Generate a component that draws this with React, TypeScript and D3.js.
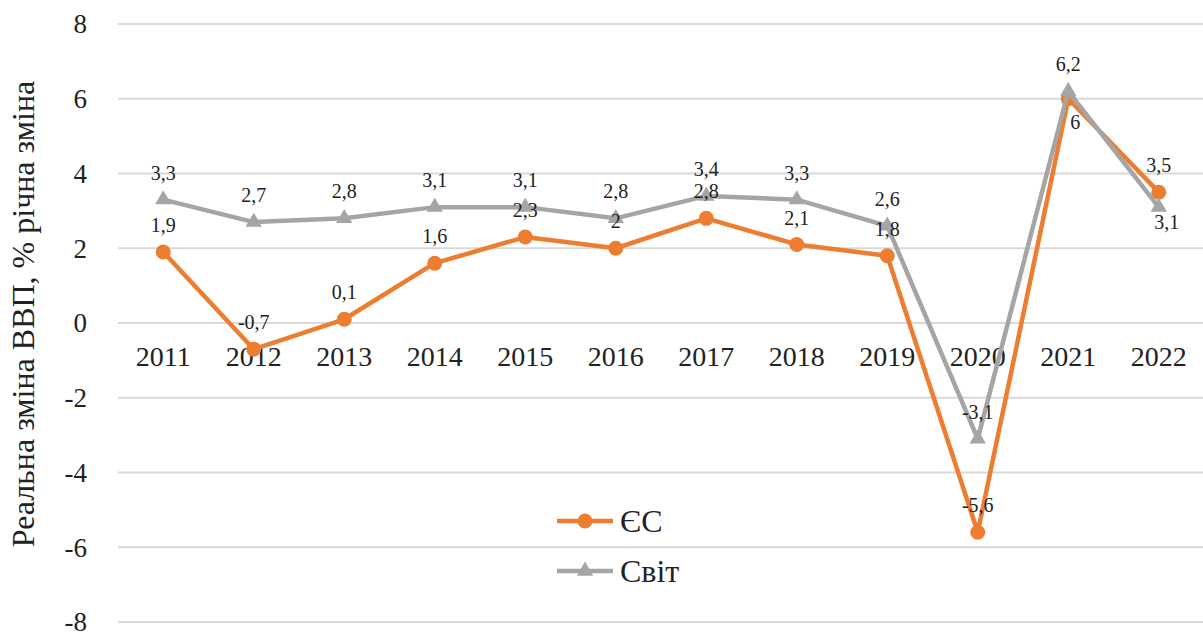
import React from "react";
import * as d3 from "d3";

const years = ["2011","2012","2013","2014","2015","2016","2017","2018","2019","2020","2021","2022"];
const euValues = [1.9, -0.7, 0.1, 1.6, 2.3, 2, 2.8, 2.1, 1.8, -5.6, 6, 3.5];
const worldValues = [3.3, 2.7, 2.8, 3.1, 3.1, 2.8, 3.4, 3.3, 2.6, -3.1, 6.2, 3.1];
const yTicks = [-8, -6, -4, -2, 0, 2, 4, 6, 8];
const seriesNames = ["ЄС", "Світ"];
const yTitle = "Реальна зміна ВВП, % річна зміна";

// label placement: "a" = above the point, "b" = below
const euLabelPos = ["a","a","a","a","a","a","a","a","a","a","b","a"];
const worldLabelPos = ["a","a","a","a","a","a","a","a","a","a","a","b"];

const W = 1203, H = 637;
const ORANGE = "#ED7D31";
const GRAY = "#A5A5A5";
const FONT = "Liberation Serif";

export default function App() {
  const x = d3.scalePoint<string>().domain(years).range([118, 1204]).padding(0.5);
  const y = d3.scaleLinear().domain([-8, 8]).range([622, 24]);
  const line = d3.line<number>().x((_, i) => x(years[i]) as number).y((d) => y(d));
  const tri = d3.symbol().type(d3.symbolTriangle).size(115)();
  const fmt = (v: number) => String(v).replace(".", ",");

  const labelPos = (v: number, i: number, pos: string[], isEu: boolean) => {
    const cx = x(years[i]) as number;
    const cy = y(v);
    if (pos[i] === "b") {
      return isEu ? { lx: cx + 7, ly: cy + 23 } : { lx: cx + 8, ly: cy + 15 };
    }
    return { lx: cx, ly: cy - 27 };
  };

  return (
    <svg width={W} height={H} style={{ position: "absolute", left: 0, top: 0, background: "#fff" }} fontFamily={FONT}>
      <rect x={0} y={0} width={W} height={H} fill="#fff" />
      {yTicks.map((t) => (
        <g key={t}>
          <line x1={118} x2={1203} y1={y(t)} y2={y(t)} stroke="#D9D9D9" strokeWidth={2} />
          <text x={87} y={y(t)} dy="0.35em" textAnchor="end" fontSize={27} fill="#222" fontFamily={FONT}>{t}</text>
        </g>
      ))}
      {years.map((yr) => (
        <text key={yr} x={x(yr) as number} y={366} textAnchor="middle" fontSize={28} fill="#222" fontFamily={FONT}>{yr}</text>
      ))}
      <text transform={`translate(34,314) rotate(-90)`} textAnchor="middle" fontSize={32} fill="#222" fontFamily={FONT}>{yTitle}</text>

      <path d={line(euValues) || ""} fill="none" stroke={ORANGE} strokeWidth={4.5} strokeLinejoin="round" />
      {euValues.map((v, i) => (
        <circle key={i} cx={x(years[i]) as number} cy={y(v)} r={7.5} fill={ORANGE} />
      ))}
      <path d={line(worldValues) || ""} fill="none" stroke={GRAY} strokeWidth={4.5} strokeLinejoin="round" />
      {worldValues.map((v, i) => (
        <path key={i} d={tri || ""} transform={`translate(${x(years[i])},${y(v)})`} fill={GRAY} />
      ))}

      {euValues.map((v, i) => {
        const p = labelPos(v, i, euLabelPos, true);
        return <text key={"e" + i} x={p.lx} y={p.ly} dy="0.35em" textAnchor="middle" fontSize={20} fill="#222" fontFamily={FONT}>{fmt(v)}</text>;
      })}
      {worldValues.map((v, i) => {
        const p = labelPos(v, i, worldLabelPos, false);
        return <text key={"w" + i} x={p.lx} y={p.ly} dy="0.35em" textAnchor="middle" fontSize={20} fill="#222" fontFamily={FONT}>{fmt(v)}</text>;
      })}

      <g>
        <line x1={557} x2={613} y1={521} y2={521} stroke={ORANGE} strokeWidth={4.5} />
        <circle cx={585} cy={521} r={7.5} fill={ORANGE} />
        <text x={620} y={532} fontSize={32} fill="#222" fontFamily={FONT}>{seriesNames[0]}</text>
        <line x1={557} x2={613} y1={571} y2={571} stroke={GRAY} strokeWidth={4.5} />
        <path d={tri || ""} transform="translate(585,571)" fill={GRAY} />
        <text x={620} y={582} fontSize={32} fill="#222" fontFamily={FONT}>{seriesNames[1]}</text>
      </g>
    </svg>
  );
}
